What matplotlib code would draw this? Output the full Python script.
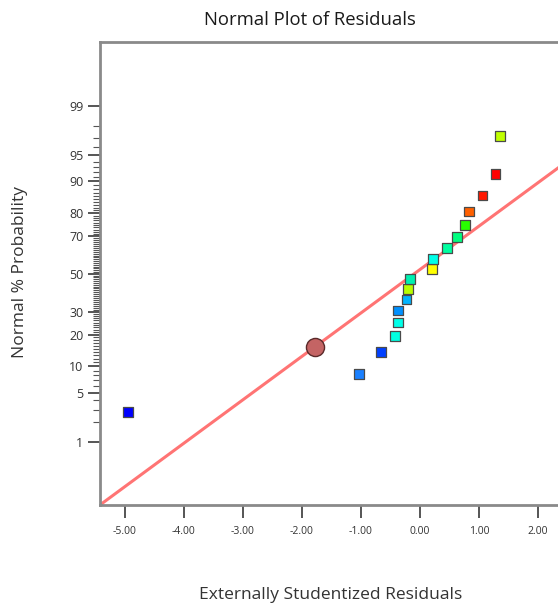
"""Normal plot of residuals"""
from statistics import NormalDist
import numpy as np
import matplotlib.pyplot as plt

plt.rcParams['font.family'] = ['Open Sans', 'DejaVu Sans']

# residuals (x) and normal % probability (y)
residuals = [-4.95, -1.03, -0.66, -0.42, -0.37, -0.37, -0.23, -0.20, -0.17,
             0.20, 0.22, 0.46, 0.63, 0.76, 0.83, 1.06, 1.28, 1.36]
probability = [2.8, 8.3, 13.9, 19.4, 25.0, 30.6, 36.1, 41.7, 47.2,
               52.8, 58.3, 63.9, 69.4, 75.0, 80.6, 86.1, 91.7, 97.2]
colors = ['#0000ff', '#1a80ff', '#0040ff', '#00ffe0', '#00ffe8', '#0090ff',
          '#00b4ff', '#b8ff00', '#00f0b0', '#ffff00', '#00ffe8', '#00ffa0',
          '#00ff80', '#28ff00', '#ff6000', '#ff1800', '#ff0000', '#c0ff00']

# highlighted point on the reference line
sel_x = -1.785
sel_p = 15.4

# reference line: z = (x - mu) / sigma
line_mu = -0.10
line_sigma = 1.663

major_p = [1, 5, 10, 20, 30, 50, 70, 80, 90, 95, 99]
xticks = [-5, -4, -3, -2, -1, 0, 1, 2]

nd = NormalDist()
probit = lambda p: np.array([nd.inv_cdf(v / 100.0) for v in np.atleast_1d(p)])

fig = plt.figure(figsize=(5.58, 6.03), dpi=100)
ax = fig.add_axes([100 / 558, 98 / 603, 480 / 558, 463 / 603])

xlim = (-5.42, 2.71)
ax.set_xlim(xlim)
ax.set_ylim(-3.2, 3.21)

xs = np.linspace(xlim[0], xlim[1], 50)
ax.plot(xs, (xs - line_mu) / line_sigma, color='#ff7474', lw=2.2, zorder=2)

ax.scatter(residuals, probit(probability), s=50, marker='s', c=colors,
           edgecolors='#4a4a4a', linewidths=0.9, zorder=3)
ax.scatter([sel_x], probit([sel_p]), s=170, marker='o', c='#c46464',
           edgecolors='#5a2a2a', linewidths=1.0, zorder=4)

ax.set_yticks(probit(major_p))
ax.set_yticklabels([str(p) for p in major_p])
ax.set_yticks(probit(range(1, 100)), minor=True)
ax.set_xticks(xticks)
ax.set_xticklabels(['%.2f' % v for v in xticks])

for s in ax.spines.values():
    s.set_color('#8a8a8a')
    s.set_linewidth(2)
ax.spines['right'].set_visible(False)

ax.tick_params(axis='both', which='major', direction='out', length=9,
               width=1.4, color='#555555', labelcolor='#333333')
ax.tick_params(axis='x', labelsize=7.5, pad=6)
ax.tick_params(axis='y', labelsize=9, pad=3)
ax.tick_params(axis='y', which='minor', direction='out', length=5,
               width=0.8, color='#555555')

fig.text(310 / 558, 1 - 20 / 603, 'Normal Plot of Residuals', ha='center',
         va='center', fontsize=13.3, color='#1a1a1a')
fig.text(331 / 558, 1 - 595 / 603, 'Externally Studentized Residuals',
         ha='center', va='center', fontsize=12.5, color='#333333')
fig.text(20 / 558, 1 - 272 / 603, 'Normal % Probability', ha='center',
         va='center', rotation=90, fontsize=12.5, color='#333333')

plt.savefig('out.png', dpi=100)
